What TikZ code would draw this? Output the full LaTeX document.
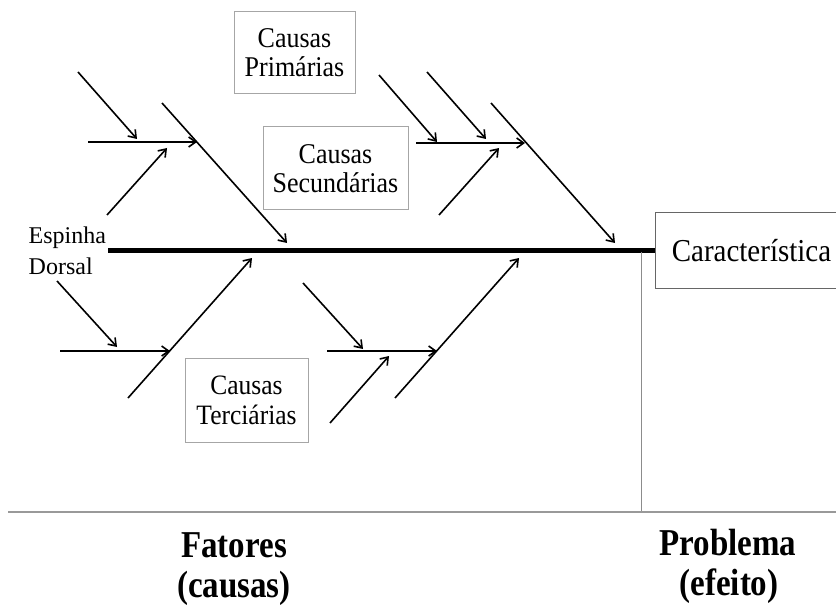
\documentclass[tikz,border=0pt]{standalone}
\usepackage{fontspec}
\setmainfont{Liberation Serif}
\usetikzlibrary{arrows.meta}
\newcommand{\vsc}[1]{\scalebox{1}[1.1]{#1}}
\newcommand{\vsb}[1]{\scalebox{1}[1.15]{#1}}
\begin{document}
\begin{tikzpicture}[x=1pt,y=-1pt,
  causebox/.style={draw=gray!70, line width=1pt, align=center, inner sep=0pt, font=\fontsize{26}{29}\selectfont},
  arr/.style={line width=1.6pt, -{Straight Barb[length=7pt,width=10pt]}},
  spine/.style={line width=5pt},
  divider/.style={draw=gray!90, line width=1.5pt},
  baseline/.style={draw=gray!80, line width=2.8pt},
  bottomlbl/.style={anchor=base, inner sep=0pt, font=\fontsize{33}{39}\selectfont\bfseries}
]
\path[use as bounding box, fill=white] (0,0) rectangle (836,607);
\clip (0,0) rectangle (836,607);

% boxes
\node[causebox, minimum width=121pt, minimum height=82pt] (prim) at (294.5,53) {\vsc{Causas}\\\vsc{Primárias}};
\node[causebox, minimum width=145pt, minimum height=83pt] (sec) at (335.5,168.5) {\vsc{Causas}\\\vsc{Secundárias}};
\node[causebox, minimum width=123pt, minimum height=84pt, font=\fontsize{25.5}{30}\selectfont] (ter) at (246.5,400) {\vsc{Causas}\\\vsc{Terciárias}};
\node[causebox, draw=gray!80!black, minimum width=193pt, minimum height=75pt, font=\fontsize{29}{32}\selectfont] (car) at (751.5,250.5) {\vsc{Característica}};

% spine label
\node[anchor=west, inner sep=0pt, align=left, font=\fontsize{24}{31}\selectfont] (esp) at (28.5,250.3) {Espinha\\Dorsal};

% spine
\coordinate (spS) at (108,250.5);
\draw[spine] (spS) -- (car.west);

% divider and base line
\coordinate (vtop) at (641.5,252);
\coordinate (vbot) at (641.5,512);
\draw[divider] (vtop) -- (vbot);
\coordinate (bL) at (8,512);
\coordinate (bR) at (836,512);
\draw[baseline] (bL) -- (bR);

% upper-left group
\coordinate (ulA) at (162,103);  \coordinate (ulAe) at (287,243);
\coordinate (ulH) at (88,142);   \coordinate (ulHe) at (197,142);
\coordinate (ulD) at (78,72);    \coordinate (ulDe) at (137,139);
\coordinate (ulU) at (107,215);  \coordinate (ulUe) at (167,148);
\draw[arr] (ulA) -- (ulAe);
\draw[arr] (ulH) -- (ulHe);
\draw[arr] (ulD) -- (ulDe);
\draw[arr] (ulU) -- (ulUe);

% upper-right group
\coordinate (urA) at (491,103);  \coordinate (urAe) at (615,243);
\coordinate (urH) at (416,143);  \coordinate (urHe) at (525,143);
\coordinate (urD) at (379,75);   \coordinate (urDe) at (437,142);
\coordinate (urE) at (427,72);   \coordinate (urEe) at (486,139);
\coordinate (urU) at (439,215);  \coordinate (urUe) at (499,148);
\draw[arr] (urA) -- (urAe);
\draw[arr] (urH) -- (urHe);
\draw[arr] (urD) -- (urDe);
\draw[arr] (urE) -- (urEe);
\draw[arr] (urU) -- (urUe);

% lower-left group
\coordinate (llA) at (128,398);  \coordinate (llAe) at (252,258);
\coordinate (llH) at (60,351);   \coordinate (llHe) at (170,351);
\coordinate (llD) at (57,281);   \coordinate (llDe) at (117,347);
\draw[arr] (llA) -- (llAe);
\draw[arr] (llH) -- (llHe);
\draw[arr] (llD) -- (llDe);

% lower-right group
\coordinate (lrA) at (395,398);  \coordinate (lrAe) at (519,258);
\coordinate (lrH) at (327,351);  \coordinate (lrHe) at (437,351);
\coordinate (lrD) at (303,283);  \coordinate (lrDe) at (363,349);
\coordinate (lrU) at (330,423);  \coordinate (lrUe) at (389,356);
\draw[arr] (lrA) -- (lrAe);
\draw[arr] (lrH) -- (lrHe);
\draw[arr] (lrD) -- (lrDe);
\draw[arr] (lrU) -- (lrUe);

% bottom labels
\node[bottomlbl] (fat)  at (234,557) {\vsb{Fatores}};
\node[bottomlbl] (fatb) at (234,597) {\vsb{(causas)}};
\node[bottomlbl] (prob) at (728,555) {\vsb{Problema}};
\node[bottomlbl] (probb) at (729,595) {\vsb{(efeito)}};
\end{tikzpicture}
\end{document}
